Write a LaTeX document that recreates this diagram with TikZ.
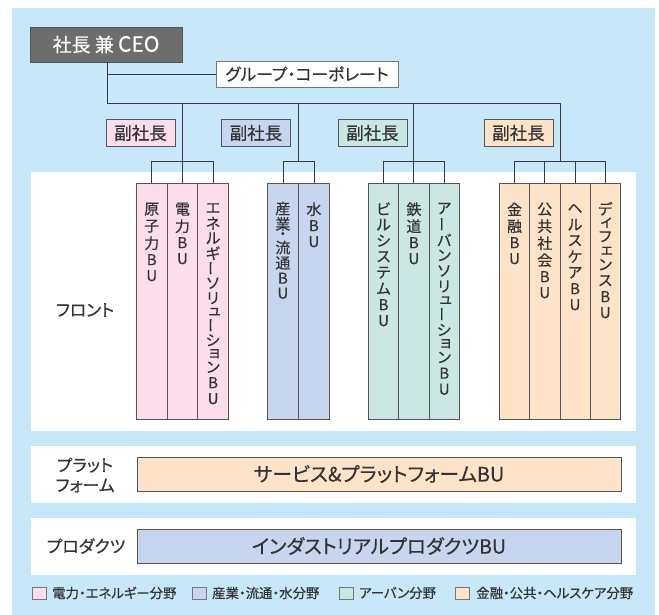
\documentclass[tikz,border=0pt]{standalone}
\usepackage{fontspec}
\usepackage{graphicx}
\setmainfont{Noto Sans CJK JP}
\newfontfamily\jp[FakeBold=0.4]{Noto Sans CJK JP}
\newfontfamily\jpp[RawFeature=+palt,FakeBold=0.4]{Noto Sans CJK JP}
\definecolor{bgblue}{HTML}{C6E8F8}
\definecolor{pinkc}{HTML}{FBDDEB}
\definecolor{bluec}{HTML}{C8D5EE}
\definecolor{greenc}{HTML}{CBE7E3}
\definecolor{orangec}{HTML}{FDE4C9}
\definecolor{ceoc}{HTML}{6D6D6D}
\definecolor{txt}{HTML}{333333}
\definecolor{boxb}{HTML}{555555}
\definecolor{linec}{HTML}{3A3A3A}
% vertical text cells
\newcommand\VC[2]{\hbox to 18pt{\hss\vbox to #1pt{\vss\hbox{#2}\vss}\hss}}
\newcommand\VK[1]{\VC{17}{#1}}
\newcommand\VA[1]{\VC{15.5}{#1}}
\newcommand\VE[1]{\VC{15}{#1}}
\newcommand\VS[1]{\VC{12}{\kern3pt#1}}
\newcommand\VL{\VC{16}{\rotatebox[origin=c]{90}{ー}}}
\newcommand\VLs{\VC{15}{\rotatebox[origin=c]{90}{ー}}}
\newcommand\VB[1]{\VC{16}{#1}}
\newcommand\VD{\VC{8}{・}}
\newcommand\VT[1]{\vbox{\offinterlineskip#1}}
\begin{document}
\begin{tikzpicture}[x=1pt,y=-1pt,
  conn/.style={draw=linec,line width=0.8pt},
  vp/.style={draw=boxb,line width=0.8pt,minimum width=69pt,minimum height=27pt,inner sep=0,
    font=\jpp\fontsize{17.5}{18}\selectfont,text=txt},
  colbox/.style={draw=boxb,line width=0.8pt,inner sep=0,anchor=north west,minimum height=236pt},
  coltext/.style={anchor=north,inner sep=0,text=txt,font=\jp\fontsize{15}{16}\selectfont},
  lab/.style={inner sep=0,text=txt,font=\jpp\fontsize{16.8}{20}\selectfont,align=center},
  bar/.style={draw=boxb,line width=0.8pt,minimum width=484pt,minimum height=34pt,inner sep=0,
    text=txt,font=\jpp\fontsize{19.8}{20}\selectfont},
  legsq/.style={draw=boxb!80,line width=0.6pt,minimum width=14pt,minimum height=12pt,inner sep=0,anchor=west},
  legtx/.style={anchor=west,inner sep=0,text=txt,font=\jpp\fontsize{13.4}{15}\selectfont}
]
\useasboundingbox (0,0) rectangle (659,615);
\fill[bgblue] (12,8) rectangle (655,615);
\fill[white] (31,172) rectangle (636,431);
\fill[white] (31,446) rectangle (636,503);
\fill[white] (31,518) rectangle (636,575);

% top nodes
\node[draw=boxb,fill=ceoc,line width=0.8pt,minimum width=152pt,minimum height=35pt,inner sep=0,
  text=white,font=\jpp\fontsize{19}{20}\selectfont] (ceo) at (106,44.5)
  {社長 兼 {\fontsize{21}{20}\selectfont CEO}};
\node[draw=boxb!80,fill=white,line width=0.8pt,minimum width=182pt,minimum height=26pt,inner sep=0,
  text=txt,font=\jpp\fontsize{16.8}{18}\selectfont] (gc) at (307,74) {グループ・コーポレート};

\node[vp,fill=pinkc] (vp1) at (140.5,133) {副社長};
\node[vp,fill=bluec] (vp2) at (256,133) {副社長};
\node[vp,fill=greenc] (vp3) at (372.5,133) {副社長};
\node[vp,fill=orangec] (vp4) at (518.5,133) {副社長};

% column boxes
\node[colbox,fill=pinkc,minimum width=30.67pt] (p1) at (136,183) {};
\node[colbox,fill=pinkc,minimum width=30.67pt] (p2) at (166.67,183) {};
\node[colbox,fill=pinkc,minimum width=30.67pt] (p3) at (197.33,183) {};
\node[colbox,fill=bluec,minimum width=31pt] (b1) at (267,183) {};
\node[colbox,fill=bluec,minimum width=31pt] (b2) at (298,183) {};
\node[colbox,fill=greenc,minimum width=30.33pt] (g1) at (368,183) {};
\node[colbox,fill=greenc,minimum width=30.33pt] (g2) at (398.33,183) {};
\node[colbox,fill=greenc,minimum width=30.33pt] (g3) at (428.67,183) {};
\node[colbox,fill=orangec,minimum width=30.25pt] (o1) at (499,183) {};
\node[colbox,fill=orangec,minimum width=30.25pt] (o2) at (529.25,183) {};
\node[colbox,fill=orangec,minimum width=30.25pt] (o3) at (559.5,183) {};
\node[colbox,fill=orangec,minimum width=30.25pt] (o4) at (589.75,183) {};

% column texts
\node[coltext] (p1t) at ([yshift=-17.5pt]p1.north) {\VT{\VK{原}\VK{子}\VK{力}\VB{B}\VB{U}}};
\node[coltext] (p2t) at ([yshift=-17.5pt]p2.north) {\VT{\VK{電}\VK{力}\VB{B}\VB{U}}};
\node[coltext] (p3t) at ([yshift=-17.5pt]p3.north) {\VT{\VE{エ}\VE{ネ}\VE{ル}\VE{ギ}\VLs\VE{ソ}\VE{リ}\VS{ュ}\VLs\VE{シ}\VS{ョ}\VE{ン}\VB{B}\VB{U}}};
\node[coltext] (b1t) at ([yshift=-17.5pt]b1.north) {\VT{\VA{産}\VA{業}\VD\VA{流}\VA{通}\VC{15}{B}\VC{15}{U}}};
\node[coltext] (b2t) at ([yshift=-17.5pt]b2.north) {\VT{\VK{水}\VB{B}\VB{U}}};
\node[coltext] (g1t) at ([yshift=-17.5pt]g1.north) {\VT{\VC{16}{ビ}\VC{16}{ル}\VC{16}{シ}\VC{16}{ス}\VC{16}{テ}\VC{16}{ム}\VB{B}\VB{U}}};
\node[coltext] (g2t) at ([yshift=-17.5pt]g2.north) {\VT{\VK{鉄}\VK{道}\VB{B}\VB{U}}};
\node[coltext] (g3t) at ([yshift=-17.5pt]g3.north) {\VT{\VA{ア}\VL\VA{バ}\VA{ン}\VA{ソ}\VA{リ}\VS{ュ}\VL\VA{シ}\VS{ョ}\VA{ン}\VB{B}\VB{U}}};
\node[coltext] (o1t) at ([yshift=-17.5pt]o1.north) {\VT{\VK{金}\VK{融}\VB{B}\VB{U}}};
\node[coltext] (o2t) at ([yshift=-17.5pt]o2.north) {\VT{\VK{公}\VK{共}\VK{社}\VK{会}\VB{B}\VB{U}}};
\node[coltext] (o3t) at ([yshift=-17.5pt]o3.north) {\VT{\VC{16}{ヘ}\VC{16}{ル}\VC{16}{ス}\VC{16}{ケ}\VC{16}{ア}\VB{B}\VB{U}}};
\node[coltext] (o4t) at ([yshift=-17.5pt]o4.north) {\VT{\VC{16}{デ}\VS{ィ}\VC{16}{フ}\VS{ェ}\VC{16}{ン}\VC{16}{ス}\VB{B}\VB{U}}};

% connectors
\coordinate (top) at (107,103);
\coordinate (ob) at (560,161);
\coordinate (jy) at (0,161);
\draw[conn] (ceo.south -| top) -- (top) -| (ob);
\draw[conn] (gc.west) -- (gc.west -| top);
% pink
\draw[conn] (p2.north |- top) -- (p2.north);
\draw[conn] (p1.north) -- (p1.north |- jy) -- (p3.north |- jy) -- (p3.north);
% blue
\coordinate (bm) at (298,161);
\draw[conn] (bm |- top) -- (bm);
\draw[conn] (b1.north) -- (b1.north |- jy) -- (b2.north |- jy) -- (b2.north);
% green
\draw[conn] (g2.north |- top) -- (g2.north);
\draw[conn] (g1.north) -- (g1.north |- jy) -- (g3.north |- jy) -- (g3.north);
% orange
\draw[conn] (o1.north) -- (o1.north |- jy) -- (o4.north |- jy) -- (o4.north);
\draw[conn] (o2.north |- jy) -- (o2.north);
\draw[conn] (o3.north |- jy) -- (o3.north);

% left labels
\node[lab] (front) at (85,310) {フロント};
\node[lab] (platl) at (85,475) {プラット\\フォーム};
\node[lab,font=\jpp\fontsize{17}{20}\selectfont] (prodl) at (86,546) {プロダクツ};

% bars
\node[bar,fill=orangec] (plat) at (379,474) {サービス\&プラットフォームBU};
\node[bar,fill=bluec,font=\jpp\fontsize{19.5}{20}\selectfont] (prod) at (379,546) {インダストリアルプロダクツBU};

% legend
\node[legsq,fill=pinkc] (l1) at (32,593) {};
\node[legtx] (l1t) at (52,593) {電力・エネルギー分野};
\node[legsq,fill=bluec] (l2) at (192,593) {};
\node[legtx] (l2t) at (212,593) {産業・流通・水分野};
\node[legsq,fill=greenc] (l3) at (339,593) {};
\node[legtx] (l3t) at (359,593) {アーバン分野};
\node[legsq,fill=orangec] (l4) at (455,593) {};
\node[legtx] (l4t) at (476,593) {金融・公共・ヘルスケア分野};
\end{tikzpicture}
\end{document}
